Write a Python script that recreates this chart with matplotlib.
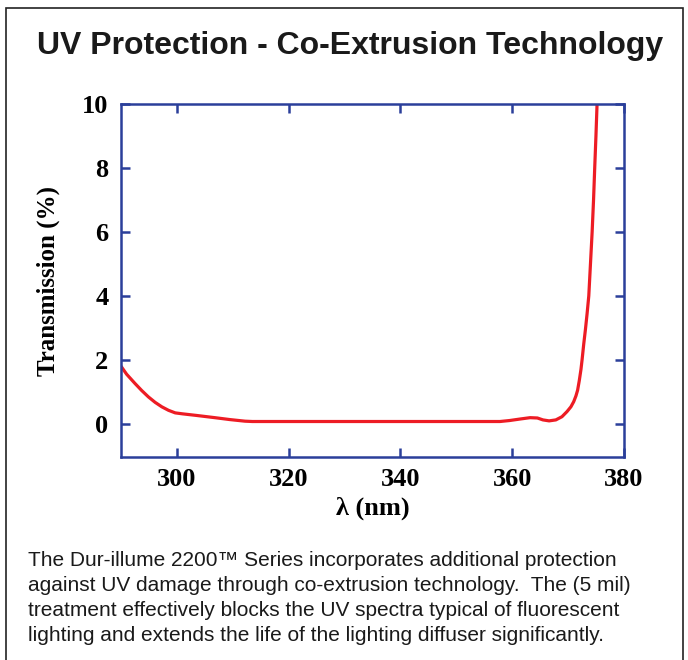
import matplotlib
matplotlib.use('Agg')
import matplotlib.pyplot as plt
from matplotlib.patches import Rectangle

# transmission curve (nm, %)
wavelength = [290, 291, 292.5, 293.7, 294.9, 296.1, 297.3, 298.5, 299.7, 301, 303.5, 306.8,
              309.5, 312.2, 313.5, 320, 330, 340, 350, 357.8, 359.5, 361.5, 363.2, 364.5,
              365.5, 366.6, 367.8, 368.9, 369.8, 370.5, 371.0, 371.4, 371.7, 372.0, 372.3,
              372.5, 372.8, 373.1, 373.4, 373.7, 374.0, 374.3, 374.55, 374.76, 374.98, 375.18]
transmission = [1.80, 1.55, 1.26, 1.04, 0.84, 0.67, 0.53, 0.42, 0.34, 0.31, 0.26, 0.19,
                0.13, 0.08, 0.07, 0.07, 0.07, 0.07, 0.07, 0.07, 0.10, 0.15, 0.19, 0.18,
                0.12, 0.09, 0.12, 0.22, 0.38, 0.53, 0.69, 0.87, 1.05, 1.35, 1.70,
                2.00, 2.50, 2.95, 3.45, 4.0, 5.0, 6.0, 7.0, 8.0, 9.0, 10.0]

x_ticks = [300, 320, 340, 360, 380]
y_ticks = [0, 2, 4, 6, 8, 10]

title = 'UV Protection - Co-Extrusion Technology'
caption = ('The Dur-illume 2200\u2122 Series incorporates additional protection\n'
           'against UV damage through co-extrusion technology.  The (5 mil)\n'
           'treatment effectively blocks the UV spectra typical of fluorescent\n'
           'lighting and extends the life of the lighting diffuser significantly.')

BLUE = '#2b3f9a'
RED = '#ed1c24'
SERIF = 'Liberation Serif'
SANS = 'Liberation Sans'

fig = plt.figure(figsize=(6.88, 6.60), dpi=100)

# outer frame
fig.patches.append(Rectangle((6 / 688, -0.01), 677 / 688, 1 - 8 / 660 + 0.01,
                             transform=fig.transFigure, fill=False,
                             edgecolor='#222222', linewidth=1.2))

fig.text(350 / 688, 1 - 46 / 660, title, ha='center', va='center',
         fontsize=23, fontweight='bold', family=SANS, color='#1a1a1a')

ax = fig.add_axes([121 / 688, 1 - 457 / 660, 503 / 688, 353 / 660])
ax.plot(wavelength, transmission, color=RED, linewidth=2.3, solid_capstyle='butt')
ax.set_xlim(290, 380)
ax.set_ylim(-1.04, 10)
ax.set_xticks(x_ticks)
ax.set_yticks(y_ticks)

for s in ax.spines.values():
    s.set_color(BLUE)
    s.set_linewidth(1.8)
ax.tick_params(direction='in', length=6.5, width=1.8, color=BLUE,
               top=True, right=True, labelsize=19, labelcolor='black')
ax.tick_params(axis='x', pad=8)
ax.tick_params(axis='y', pad=9)
for lab in ax.get_xticklabels() + ax.get_yticklabels():
    lab.set_family(SERIF)
    lab.set_fontweight('bold')

ax.set_xlabel('\u03bb (nm)', family=SERIF, fontweight='bold', fontsize=19, labelpad=4)
ax.set_ylabel('Transmission (%)', family=SERIF, fontweight='bold', fontsize=18, labelpad=16)

fig.text(28 / 688, 1 - 551 / 660, caption, ha='left', va='top',
         fontsize=15, family=SANS, color='#1a1a1a', linespacing=1.4)

fig.savefig('out.png', dpi=100)
